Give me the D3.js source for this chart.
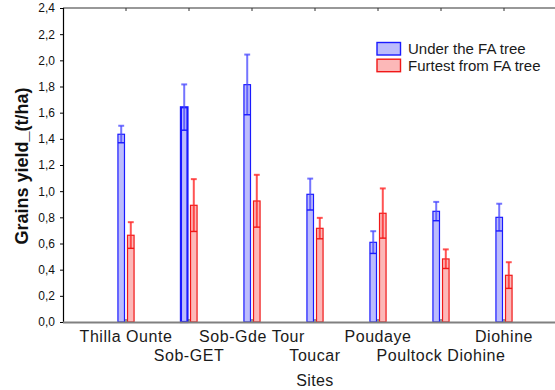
<!DOCTYPE html>
<html>
<head>
<meta charset="utf-8">
<script src="https://cdn.jsdelivr.net/npm/d3@7"></script>
<style>
  html, body { margin: 0; padding: 0; background: #fff; }
  svg { display: block; font-family: Arial, "Liberation Sans", sans-serif; }
</style>
</head>
<body>
<svg id="chart" width="555" height="390"></svg>
<script>
// Sites and mean grain yield (t/ha) with error half-widths
const categories = ["Thilla Ounte", "Sob-GET", "Sob-Gde Tour", "Toucar", "Poudaye", "Poultock Diohine", "Diohine"];
const underMean = [1.435, 1.641, 1.814, 0.976, 0.609, 0.846, 0.800];
const underErr = [0.065, 0.175, 0.230, 0.120, 0.085, 0.072, 0.104];
const furthestMean = [0.663, 0.892, 0.925, 0.716, 0.831, 0.482, 0.357];
const furthestErr = [0.100, 0.200, 0.200, 0.080, 0.190, 0.073, 0.100];
const seriesNames = ["Under the FA tree", "Furtest from FA tree"];
const yTicks = [0, 0.2, 0.4, 0.6, 0.8, 1.0, 1.2, 1.4, 1.6, 1.8, 2.0, 2.2, 2.4];

const svg = d3.select("#chart");
const plotLeft = 63, plotTop = 8, plotBottom = 322;
const step = 63;
const plotRight = plotLeft + step * (categories.length + 1);

const x = d3.scaleLinear().domain([0, categories.length + 1]).range([plotLeft, plotRight]);
const y = d3.scaleLinear().domain([0, 2.4]).range([plotBottom, plotTop]);
const cx = i => x(i + 1);

const series = [
  { name: seriesNames[0], mean: underMean, err: underErr, fill: "#bcbcfc", stroke: "#1a1aff", errColor: "rgba(70,70,255,0.75)", side: -1 },
  { name: seriesNames[1], mean: furthestMean, err: furthestErr, fill: "#fcb8b8", stroke: "#f01818", errColor: "rgba(255,40,40,0.8)", side: 1 }
];

const barW = step * 0.104;
const gap = step * 0.024;

// frame: top line
svg.append("line").attr("x1", plotLeft).attr("x2", plotRight).attr("y1", plotTop).attr("y2", plotTop)
  .attr("stroke", "#333").attr("stroke-width", 1.2);

// bars and error bars
series.forEach(s => {
  const g = svg.append("g");
  categories.forEach((c, i) => {
    const x0 = s.side < 0 ? cx(i) - gap - barW : cx(i) + gap;
    const xm = x0 + barW / 2;
    const m = s.mean[i], e = s.err[i];
    const bold = s.side < 0 && c === "Sob-GET";
    g.append("rect")
      .attr("x", x0).attr("y", y(m))
      .attr("width", barW).attr("height", y(0) - y(m))
      .attr("fill", s.fill)
      .attr("stroke", s.stroke)
      .attr("stroke-width", bold ? 2.2 : 1.2);
    // whisker
    g.append("line").attr("x1", xm).attr("x2", xm).attr("y1", y(m + e)).attr("y2", y(m - e))
      .attr("stroke", s.errColor).attr("stroke-width", 2);
    g.append("line").attr("x1", xm - barW * 0.45).attr("x2", xm + barW * 0.45)
      .attr("y1", y(m + e)).attr("y2", y(m + e))
      .attr("stroke", s.errColor).attr("stroke-width", 2);
    g.append("line").attr("x1", x0).attr("x2", x0 + barW)
      .attr("y1", y(m - e)).attr("y2", y(m - e))
      .attr("stroke", s.stroke).attr("stroke-width", 1.4);
  });
});

// left axis
const yAxis = d3.axisLeft(y).tickValues(yTicks).tickSize(3).tickPadding(5)
  .tickFormat(d => d3.format(".1f")(d).replace(".", ","));
const ya = svg.append("g").attr("transform", `translate(${plotLeft},0)`).call(yAxis);
ya.select(".domain").attr("stroke", "#000").attr("stroke-width", 1.2);
ya.selectAll(".tick line").attr("stroke", "#000");
ya.selectAll(".tick text").attr("font-size", 12).attr("fill", "#111")
  .attr("font-family", "Arial, 'Liberation Sans', sans-serif");

// category ticks inside the frame (top and bottom)
categories.forEach((c, i) => {
  svg.append("line").attr("x1", cx(i)).attr("x2", cx(i)).attr("y1", plotTop).attr("y2", plotTop + 3)
    .attr("stroke", "#333");
  svg.append("line").attr("x1", cx(i)).attr("x2", cx(i)).attr("y1", plotBottom).attr("y2", plotBottom - 3)
    .attr("stroke", "#333");
});

// bottom axis line
svg.append("line").attr("x1", plotLeft).attr("x2", plotRight).attr("y1", plotBottom + 0.5).attr("y2", plotBottom + 0.5)
  .attr("stroke", "#808080").attr("stroke-width", 2);

// staggered category labels
svg.append("g").selectAll("text").data(categories).join("text")
  .attr("x", (d, i) => cx(i))
  .attr("y", (d, i) => i % 2 === 0 ? 342 : 361)
  .attr("text-anchor", "middle")
  .attr("font-size", 16)
  .attr("letter-spacing", 0.55)
  .attr("fill", "#1a1a1a")
  .text(d => d);

// axis titles
svg.append("text").attr("x", cx(3)).attr("y", 386).attr("text-anchor", "middle")
  .attr("font-size", 16).attr("letter-spacing", 0.4).attr("fill", "#1a1a1a").text("Sites");

svg.append("text")
  .attr("transform", `translate(28,${(plotTop + plotBottom) / 2 + 1}) rotate(-90)`)
  .attr("text-anchor", "middle")
  .attr("font-size", 18).attr("font-weight", "bold").attr("fill", "#111")
  .text("Grains yield_(t/ha)");

// legend
const lg = svg.append("g").attr("transform", "translate(377,42.5)");
series.forEach((s, i) => {
  lg.append("rect").attr("x", 0).attr("y", i * 16.7).attr("width", 23.5).attr("height", 12.5)
    .attr("fill", s.fill).attr("stroke", s.stroke).attr("stroke-width", 1.4);
  lg.append("text").attr("x", 31).attr("y", i * 16.7 + 11.6)
    .attr("font-size", 15).attr("fill", "#1a1a1a").text(s.name);
});
</script>
</body>
</html>
